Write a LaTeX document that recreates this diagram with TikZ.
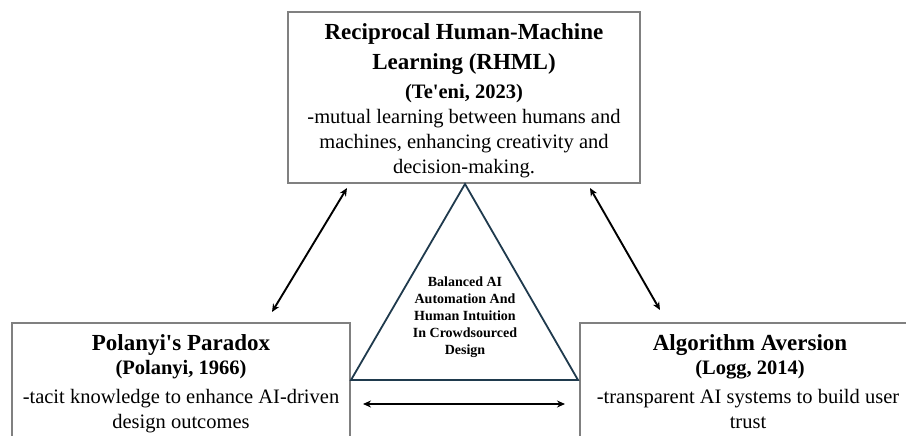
\documentclass[tikz,border=0pt]{standalone}
\usepackage{fontspec}
\setmainfont{Liberation Serif}
\usetikzlibrary{arrows.meta}
\definecolor{boxgray}{HTML}{808080}
\definecolor{tricol}{HTML}{1F3A4D}
\tikzset{
  box/.style={draw=boxgray, line width=1.4pt, rectangle, inner sep=0pt},
  ttl/.style={font=\fontsize{23}{28}\selectfont\bfseries, anchor=base, inner sep=0pt},
  cite/.style={font=\fontsize{20.5}{25}\selectfont\bfseries, anchor=base, inner sep=0pt},
  bodytxt/.style={font=\fontsize{20.5}{25}\selectfont, anchor=base, inner sep=0pt},
  tritxt/.style={font=\fontsize{14}{17}\selectfont\bfseries, anchor=base, inner sep=0pt},
  tri/.style={draw=tricol, line width=1.8pt, line join=miter},
  arr/.style={draw=black, line width=1.9pt, {Stealth[length=8pt,width=7pt]}-{Stealth[length=8pt,width=7pt]}}
}
\begin{document}
\begin{tikzpicture}[x=1pt,y=-1pt]
\useasboundingbox (0,0) rectangle (906,436);
\clip (0,0) rectangle (906,436);
\fill[white] (0,0) rectangle (906,436);
% boxes
\node[box, minimum width=352pt, minimum height=171pt] (rhml) at (464,97.5) {};
\node[box, minimum width=338pt, minimum height=140pt] (pol) at (181,393) {};
\node[box, minimum width=340pt, minimum height=140pt] (alg) at (750,393) {};
% top box text
\node[ttl] (t1) at (464,39.5) {Reciprocal Human-Machine};
\node[ttl] (t2) at (464,69.5) {Learning (RHML)};
\node[cite] (t3) at (464,98.5) {(Te\textquotesingle eni, 2023)};
\node[bodytxt] (t4) at (464,123.5) {-mutual learning between humans and};
\node[bodytxt] (t5) at (464,148.5) {machines, enhancing creativity and};
\node[bodytxt] (t6) at (464,173.5) {decision-making.};
% left box text
\node[ttl] (p1) at (181,350.5) {Polanyi\textquotesingle s Paradox};
\node[cite] (p2) at (181,374.5) {(Polanyi, 1966)};
\node[bodytxt] (p3) at (181,403.5) {-tacit knowledge to enhance AI-driven};
\node[bodytxt] (p4) at (181,428.5) {design outcomes};
% right box text
\node[ttl] (a1) at (750,350.5) {Algorithm Aversion};
\node[cite] (a2) at (750,374.5) {(Logg, 2014)};
\node[bodytxt] (a3) at (748,403.5) {-transparent AI systems to build user};
\node[bodytxt] (a4) at (748,428.5) {trust};
% triangle
\coordinate (apex) at (465,184);
\coordinate (bl) at (351,380);
\coordinate (br) at (578,380);
\draw[tri] (apex) -- (bl) -- (br) -- cycle;
\node[tritxt] (c1) at (465,286.5) {Balanced AI};
\node[tritxt] (c2) at (465,303.5) {Automation And};
\node[tritxt] (c3) at (465,320.5) {Human Intuition};
\node[tritxt] (c4) at (465,337.5) {In Crowdsourced};
\node[tritxt] (c5) at (465,354.5) {Design};
% arrows
\coordinate (la1) at (347,188);
\coordinate (la2) at (272,312);
\coordinate (ra1) at (590,188);
\coordinate (ra2) at (660,310);
\coordinate (ha1) at (363,404);
\coordinate (ha2) at (565,404);
\draw[arr] (la1) -- (la2);
\draw[arr] (ra1) -- (ra2);
\draw[arr] (ha1) -- (ha2);
\end{tikzpicture}
\end{document}
